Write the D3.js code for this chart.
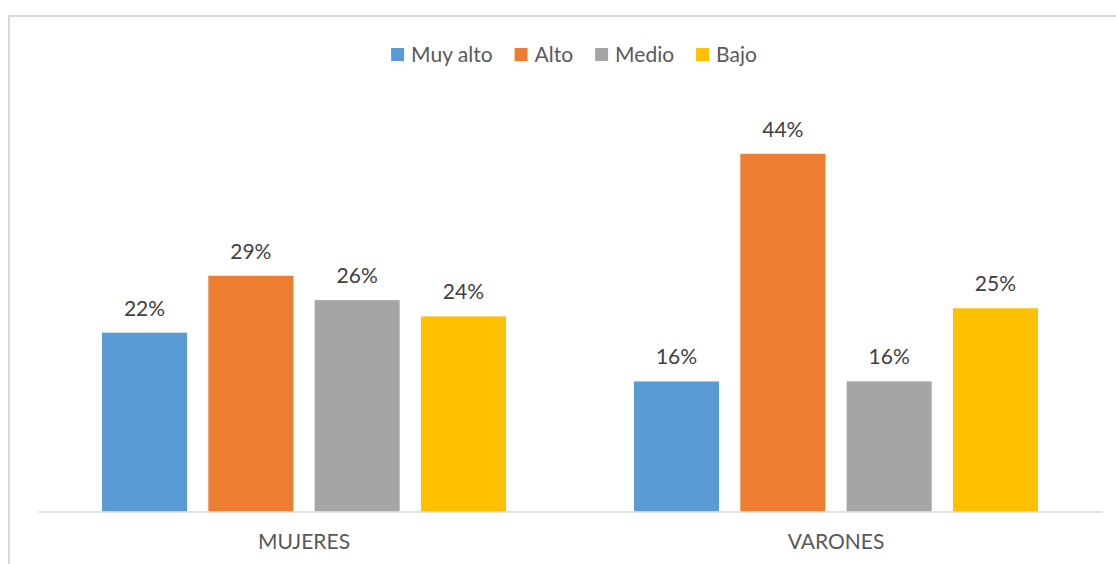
<!DOCTYPE html>
<html>
<head>
<meta charset="utf-8">
<script src="https://cdn.jsdelivr.net/npm/d3@7"></script>
<style>
  body { margin: 0; background: #fff; }
  text { font-family: Lato, "Open Sans", sans-serif; }
</style>
</head>
<body>
<div id="chart"></div>
<script>
// Chart data
var categories = ["MUJERES", "VARONES"];
var series = ["Muy alto", "Alto", "Medio", "Bajo"];
var colors = ["#5B9BD5", "#ED7D31", "#A5A5A5", "#FFC000"];
var muyAlto = [22, 16];
var alto = [29, 44];
var medio = [26, 16];
var bajo = [24, 25];
var values = [muyAlto, alto, medio, bajo];

var svgWidth = 1116;
var svgHeight = 564;

var svg = d3.select("#chart")
  .append("svg")
  .attr("width", svgWidth)
  .attr("height", svgHeight);

// outer chart border (runs off the right and bottom edge)
svg.append("rect")
  .attr("x", 9)
  .attr("y", 16)
  .attr("width", 1200)
  .attr("height", 700)
  .attr("fill", "none")
  .attr("stroke", "#d9d9d9")
  .attr("stroke-width", 2);

// scales
var x0 = d3.scaleBand()
  .domain(categories)
  .range([38, 1102]);

var x1 = d3.scaleBand()
  .domain(series)
  .range([64, x0.bandwidth() - 64])
  .paddingInner(0.2);

var y = d3.scaleLinear()
  .domain([0, 50])
  .range([511.5, 105]);

// bars
var groups = svg.append("g")
  .selectAll("g")
  .data(categories)
  .enter()
  .append("g")
  .attr("transform", d => `translate(${x0(d)},0)`);

groups.each(function(cat, ci) {
  var g = d3.select(this);
  series.forEach(function(s, si) {
    var v = values[si][ci];
    g.append("rect")
      .attr("x", x1(s))
      .attr("y", y(v))
      .attr("width", x1.bandwidth())
      .attr("height", y(0) - y(v))
      .attr("fill", colors[si]);
    g.append("text")
      .attr("x", x1(s) + x1.bandwidth() / 2)
      .attr("y", y(v) - 17)
      .attr("text-anchor", "middle")
      .attr("font-size", "21px")
      .attr("fill", "#404040")
      .text(v + "%");
  });
});

// category axis
var xAxis = svg.append("g")
  .attr("transform", `translate(0, ${y(0)})`)
  .call(d3.axisBottom(x0).tickSize(0).tickPadding(23));

xAxis.select(".domain").attr("stroke", "#d9d9d9").attr("stroke-width", 1.5);
xAxis.selectAll("text")
  .attr("font-size", "21px")
  .attr("fill", "#595959")
  .attr("font-family", "Lato, 'Open Sans', sans-serif");

// legend
var legend = svg.append("g");
var items = legend.selectAll("g")
  .data(series)
  .enter()
  .append("g");

items.append("rect")
  .attr("y", 48)
  .attr("width", 13)
  .attr("height", 13)
  .attr("fill", (d, i) => colors[i]);

items.append("text")
  .attr("x", 20)
  .attr("y", 62)
  .attr("font-size", "21px")
  .attr("fill", "#595959")
  .text(d => d);

var pos = 0;
items.each(function() {
  var w = d3.select(this).select("text").node().getComputedTextLength();
  d3.select(this).attr("transform", `translate(${pos},0)`);
  pos += 20 + w + 22;
});
var totalW = pos - 22;
legend.attr("transform", `translate(${574 - totalW / 2},0)`);
</script>
</body>
</html>
